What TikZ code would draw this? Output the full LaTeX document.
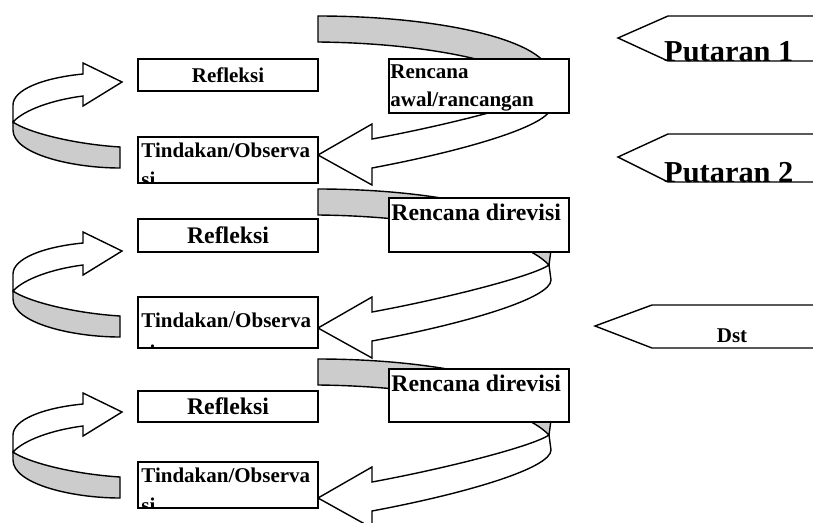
\documentclass[tikz,border=0pt]{standalone}
\usepackage{fontspec}
\setmainfont{Liberation Serif}
\usetikzlibrary{positioning}

\begin{document}
\begin{tikzpicture}[x=1pt, y=-1pt,
    box/.style={draw, line width=1.6pt, fill=white, inner sep=0pt},
    ribbon/.style={draw, line width=1.4pt, fill=white, line join=miter},
    backside/.style={draw, line width=1.4pt, fill=black!20},
    tag/.style={draw, line width=1.4pt, fill=white},
    smalltext/.style={font=\fontsize{21pt}{28pt}\selectfont\bfseries, inner sep=0pt},
    bigtext/.style={font=\fontsize{23.8pt}{30pt}\selectfont\bfseries, inner sep=0pt},
    hugetext/.style={font=\fontsize{30.4pt}{36pt}\selectfont\bfseries, inner sep=0pt}
    ]
    \useasboundingbox (0,0) rectangle (813,522);

    % curved arrows on the left: tindakan -> refleksi
    \foreach \ty in {82,251,412} {
      \begin{scope}[shift={(122,\ty)}]
        \filldraw[backside] (-109,40) .. controls (-95,50) and (-50,62) .. (-2,65) -- (-2,86)
          .. controls (-50,86) and (-109,72) .. (-109,48) -- cycle;
        \filldraw[ribbon] (-39,-19) -- (0,0) -- (-39,24) -- (-39,14)
          .. controls (-70,18) and (-98,28) .. (-109,40) -- (-109,23)
          .. controls (-109,8) and (-80,-4) .. (-39,-8) -- cycle;
      \end{scope}
    }

    % curved arrows on the right: rencana -> tindakan
    \foreach \ty in {155,328,498} {
      \begin{scope}[shift={(318,\ty)}]
        \filldraw[backside] (0,-139) .. controls (120,-139) and (233,-115) .. (233,-78) -- (231,-63)
          .. controls (200,-95) and (100,-112) .. (0,-113) -- cycle;
        \filldraw[ribbon] (54,-31) -- (0,0) -- (54,30) -- (54,13)
          .. controls (150,-5) and (233,-30) .. (233,-48) -- (231,-63)
          .. controls (215,-52) and (130,-30) .. (54,-16) -- cycle;
      \end{scope}
    }

    % putaran 1
    \node[box, smalltext, minimum width=180pt, minimum height=32pt] (refleksi1) at (228,75) {Refleksi};
    \node[box, minimum width=180pt, minimum height=46pt] (tindakan1) at (228,160) {};
    \begin{scope}
      \clip (tindakan1.south west) rectangle (tindakan1.north east);
      \node[smalltext, align=left, below right=6.7pt and 4pt of tindakan1.north west] (tindakan1text) {Tindakan/Observa\\[1pt]si};
    \end{scope}
    \node[box, minimum width=180pt, minimum height=54pt] (rencana1) at (479,86) {};
    \node[smalltext, align=left, below right=6.7pt and 2pt of rencana1.north west] (rencana1text) {Rencana\\awal/rancangan};

    % putaran 2
    \node[box, bigtext, minimum width=180pt, minimum height=33pt] (refleksi2) at (228,235.5) {Refleksi};
    \node[box, minimum width=180pt, minimum height=51pt] (tindakan2) at (228,322.5) {};
    \begin{scope}
      \clip (tindakan2.south west) rectangle (tindakan2.north east);
      \node[smalltext, align=left, below right=15.7pt and 4pt of tindakan2.north west] (tindakan2text) {Tindakan{\mdseries\fontsize{24pt}{28pt}\selectfont/}Observa\\[4pt]si};
    \end{scope}
    \node[box, minimum width=180pt, minimum height=54pt] (rencana2) at (479,225) {};
    \node[bigtext, below right=6.8pt and 3pt of rencana2.north west] (rencana2text) {Rencana direvisi};

    % putaran 3
    \node[box, bigtext, minimum width=180pt, minimum height=31pt] (refleksi3) at (228,406.5) {Refleksi};
    \node[box, minimum width=180pt, minimum height=46pt] (tindakan3) at (228,485) {};
    \begin{scope}
      \clip (tindakan3.south west) rectangle (tindakan3.north east);
      \node[smalltext, align=left, below right=6.7pt and 4pt of tindakan3.north west] (tindakan3text) {Tindakan/Observa\\[2pt]si};
    \end{scope}
    \node[box, minimum width=180pt, minimum height=53pt] (rencana3) at (479,395.5) {};
    \node[bigtext, below right=6.5pt and 3pt of rencana3.north west] (rencana3text) {Rencana direvisi};

    % labels on the right
    \draw[tag] (820,16) -- (668,16) -- (618,38) -- (668,61) -- (820,61) -- cycle;
    \node[hugetext, anchor=base west] (putaran1) at (664,61) {Putaran 1};
    \draw[tag] (820,134) -- (668,134) -- (618,157) -- (668,182) -- (820,182) -- cycle;
    \node[hugetext, anchor=base west] (putaran2) at (664,182) {Putaran 2};
    \draw[tag] (820,305) -- (652,305) -- (595,326) -- (652,348) -- (820,348) -- cycle;
    \node[smalltext, anchor=base] (dst) at (732,342) {Dst};
  \end{tikzpicture}
\end{document}
